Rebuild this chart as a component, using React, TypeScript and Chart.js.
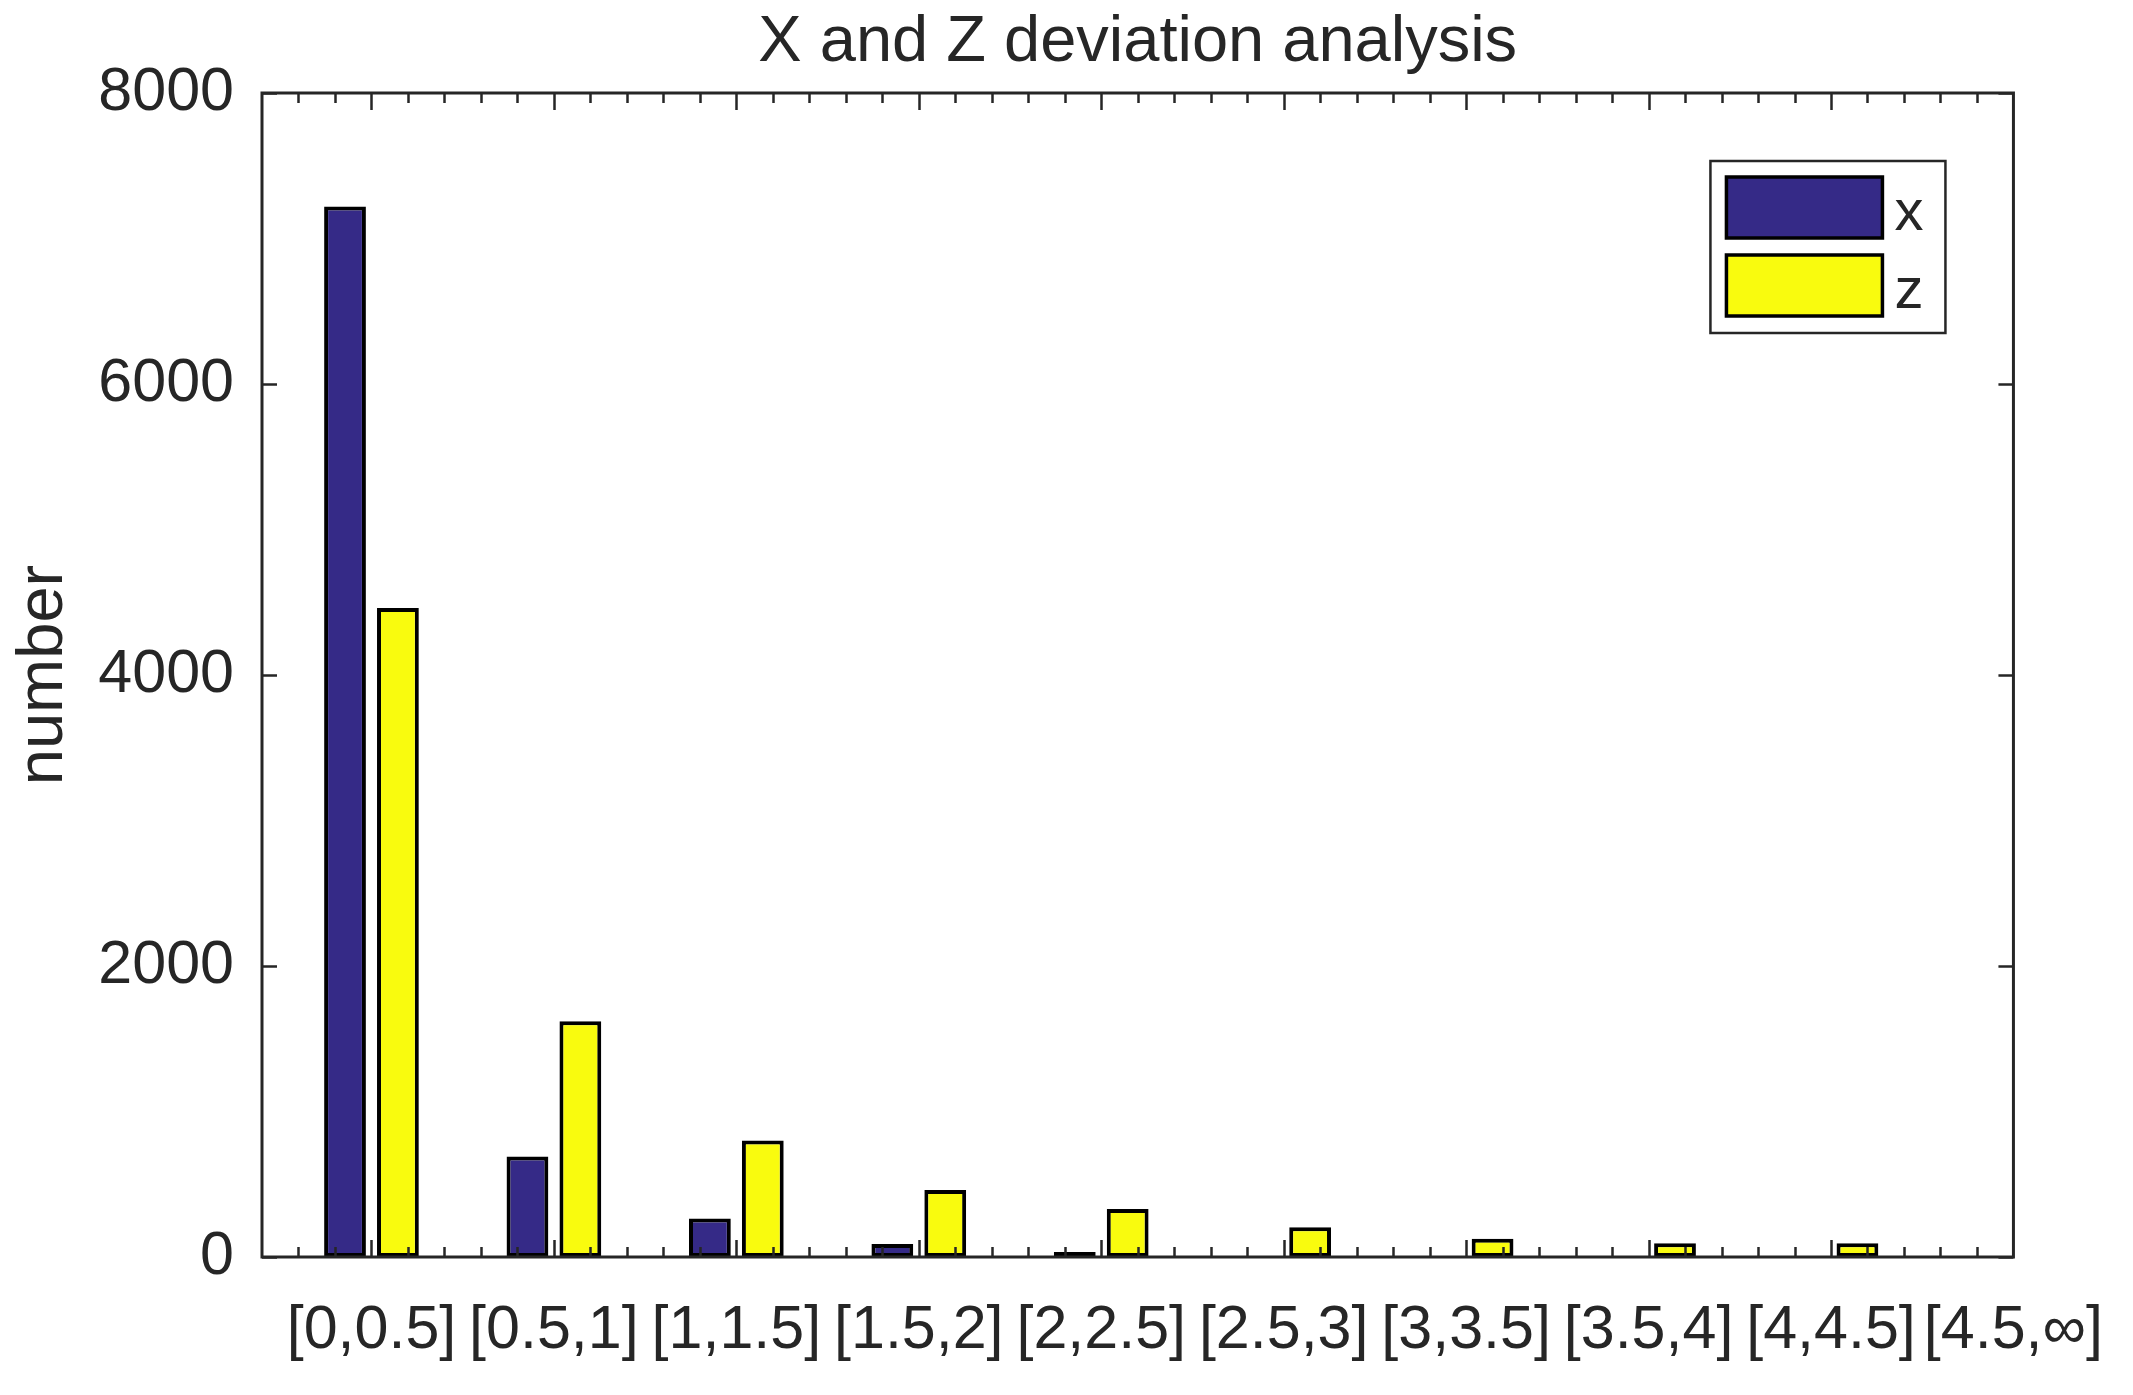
import React, { useEffect, useRef } from "react";
import { Chart, registerables } from "chart.js";

Chart.register(...registerables);

// ---------- data ----------
const TITLE = "X and Z deviation analysis";
const Y_LABEL = "number";
const categories = [
  "[0,0.5]",
  "[0.5,1]",
  "[1,1.5]",
  "[1.5,2]",
  "[2,2.5]",
  "[2.5,3]",
  "[3,3.5]",
  "[3.5,4]",
  "[4,4.5]",
  "[4.5,\u221E]",
];
const seriesNames = ["x", "z"];
const xValues = [7220, 690, 265, 90, 35, 0, 0, 0, 0];
const zValues = [4460, 1620, 800, 460, 330, 205, 125, 95, 95];
const yTickValues = [0, 2000, 4000, 6000, 8000];
const X_MIN = 0.4;
const X_MAX = 10;
const Y_MIN = 0;
const Y_MAX = 8000;

// ---------- style ----------
const FONT = "'Liberation Sans', Arial, Helvetica, sans-serif";
const TEXT = "#262626";
const AXIS = "#262626";
const COLORS = ["#352a87", "#f9fb0e"];
const W = 2133;
const H = 1395;

const axesPlugin = {
  id: "matlabAxes",
  afterDatasetsDraw(chart: any) {
    const { ctx, chartArea } = chart;
    const { left, right, top, bottom } = chartArea;
    const xs = chart.scales.x;
    const ys = chart.scales.y;
    ctx.save();
    ctx.strokeStyle = AXIS;
    ctx.lineWidth = 2.5;
    ctx.beginPath();
    // y ticks (left + right, inward)
    yTickValues.forEach((v) => {
      const py = Math.round(ys.getPixelForValue(v)) + 0.5;
      ctx.moveTo(left, py);
      ctx.lineTo(left + 15, py);
      ctx.moveTo(right, py);
      ctx.lineTo(right - 15, py);
    });
    // x major + minor ticks (bottom + top, inward)
    const kMin = Math.ceil(X_MIN * 5 + 1e-9);
    const kMax = Math.floor(X_MAX * 5 - 1e-9);
    for (let k = kMin; k <= kMax; k++) {
      const v = k / 5;
      const px = Math.round(xs.getPixelForValue(v)) + 0.5;
      const len = k % 5 === 0 ? 17 : 10;
      ctx.moveTo(px, bottom);
      ctx.lineTo(px, bottom - len);
      ctx.moveTo(px, top);
      ctx.lineTo(px, top + len);
    }
    ctx.stroke();
    // box
    ctx.lineWidth = 3;
    ctx.strokeRect(left, top, right - left, bottom - top);
    ctx.restore();
  },
};

const legendPlugin = {
  id: "matlabLegend",
  afterDraw(chart: any) {
    const { ctx, chartArea } = chart;
    const boxRight = chartArea.right - 68;
    const boxTop = chartArea.top + 68;
    const boxW = 235;
    const boxH = 172;
    const boxLeft = boxRight - boxW;
    ctx.save();
    ctx.fillStyle = "#ffffff";
    ctx.fillRect(boxLeft, boxTop, boxW, boxH);
    ctx.strokeStyle = AXIS;
    ctx.lineWidth = 2.5;
    ctx.strokeRect(boxLeft, boxTop, boxW, boxH);
    chart.data.datasets.forEach((ds: any, i: number) => {
      const sx = boxLeft + 16;
      const sy = boxTop + 16 + i * 78;
      const sw = 156;
      const sh = 61;
      ctx.fillStyle = ds.backgroundColor;
      ctx.fillRect(sx, sy, sw, sh);
      ctx.strokeStyle = "#000000";
      ctx.lineWidth = 3.5;
      ctx.strokeRect(sx, sy, sw, sh);
      ctx.fillStyle = TEXT;
      ctx.font = `58px ${FONT}`;
      ctx.textAlign = "left";
      ctx.textBaseline = "middle";
      ctx.fillText(ds.label, sx + sw + 12, sy + sh / 2 + 6);
    });
    ctx.restore();
  },
};

export default function App() {
  const ref = useRef<HTMLCanvasElement | null>(null);

  useEffect(() => {
    document.body.style.margin = "0";
    document.body.style.overflow = "hidden";
    const canvas = ref.current;
    if (!canvas) return;
    const seriesValues = [xValues, zValues];
    const chart = new Chart(canvas, {
      type: "bar",
      data: {
        datasets: seriesNames.map((name, si) => ({
          label: name,
          data: seriesValues[si].map((v, i) => ({ x: i + 1, y: v })),
          backgroundColor: COLORS[si],
          borderColor: "#000000",
          borderWidth: 4,
          borderSkipped: false,
          categoryPercentage: 0.58,
          barPercentage: 0.79,
        })),
      },
      options: {
        animation: false,
        responsive: false,
        devicePixelRatio: 1,
        layout: { padding: { left: 0, right: 110, top: 0, bottom: 0 } },
        plugins: {
          legend: { display: false },
          tooltip: { enabled: false },
          title: {
            display: true,
            text: TITLE,
            fullSize: false,
            color: TEXT,
            font: { family: FONT, size: 65, weight: "normal" },
            padding: { top: 4, bottom: 11 },
          },
        },
        scales: {
          x: {
            type: "linear",
            min: X_MIN,
            max: X_MAX,
            offset: false,
            grid: { display: false, offset: false },
            border: { display: false },
            afterBuildTicks: (s: any) => {
              s.ticks = categories.map((_, i) => ({ value: i + 1 }));
            },
            afterFit: (s: any) => {
              s.height = 138;
            },
            ticks: {
              autoSkip: false,
              maxRotation: 0,
              minRotation: 0,
              padding: 30,
              color: TEXT,
              font: { family: FONT, size: 61 },
              callback: (value: any) => categories[Math.round(Number(value)) - 1] ?? "",
            },
          },
          y: {
            type: "linear",
            min: Y_MIN,
            max: Y_MAX,
            grid: { display: false },
            border: { display: false },
            afterBuildTicks: (s: any) => {
              s.ticks = yTickValues.map((v) => ({ value: v }));
            },
            afterFit: (s: any) => {
              s.width = 262;
            },
            ticks: {
              padding: 20,
              color: TEXT,
              font: { family: FONT, size: 61 },
              callback: (value: any) => String(value),
            },
            title: {
              display: true,
              text: Y_LABEL,
              color: TEXT,
              font: { family: FONT, size: 65 },
              padding: { top: 5, bottom: 0 },
            },
          },
        },
      },
      plugins: [axesPlugin, legendPlugin],
    } as any);
    return () => chart.destroy();
  }, []);

  return (
    <div style={{ position: "fixed", left: 0, top: 0, width: W, height: H, background: "#fff" }}>
      <canvas ref={ref} width={W} height={H} style={{ width: W, height: H, display: "block" }} />
    </div>
  );
}
